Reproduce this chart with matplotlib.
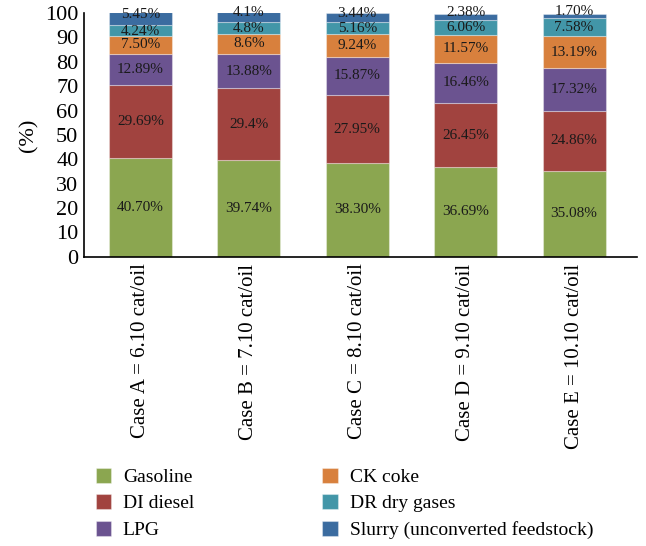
import matplotlib
matplotlib.use("Agg")
import matplotlib.pyplot as plt
import numpy as np

plt.rcParams['font.family'] = ['Liberation Serif', 'DejaVu Serif']

cases = ["Case A = 6.10 cat/oil", "Case B = 7.10 cat/oil", "Case C = 8.10 cat/oil",
         "Case D = 9.10 cat/oil", "Case E = 10.10 cat/oil"]

series_names = ["Gasoline", "DI diesel", "LPG", "CK coke", "DR dry gases",
                "Slurry (unconverted feedstock)"]

gasoline = [40.70, 39.74, 38.30, 36.69, 35.08]
diesel = [29.69, 29.4, 27.95, 26.45, 24.86]
lpg = [12.89, 13.88, 15.87, 16.46, 17.32]
coke = [7.50, 8.6, 9.24, 11.57, 13.19]
dry_gases = [4.24, 4.8, 5.16, 6.06, 7.58]
slurry = [5.45, 4.1, 3.44, 2.38, 1.70]

labels = [
    ["40.70%", "39.74%", "38.30%", "36.69%", "35.08%"],
    ["29.69%", "29.4%", "27.95%", "26.45%", "24.86%"],
    ["12.89%", "13.88%", "15.87%", "16.46%", "17.32%"],
    ["7.50%", "8.6%", "9.24%", "11.57%", "13.19%"],
    ["4.24%", "4.8%", "5.16%", "6.06%", "7.58%"],
    ["5.45%", "4.1%", "3.44%", "2.38%", "1.70%"],
]

colors = ["#8BA650", "#A1433F", "#6B5390", "#D8803D", "#4296A8", "#3B6CA0"]

# vertical nudge (points) of each series' value labels; the thin top
# segments get their labels lifted so they read clearly
label_offsets = [0, 0, 0, 0, -0.5, 3.0]

series = [gasoline, diesel, lpg, coke, dry_gases, slurry]

fig = plt.figure(figsize=(6.46, 5.46), dpi=100)
ax = fig.add_axes([0.130, 0.530, 0.856, 0.446])

x = np.arange(len(cases))
bottom = np.zeros(len(cases))
handles = []
for vals, name, col, labs, dy in zip(series, series_names, colors, labels, label_offsets):
    vals = np.array(vals)
    bars = ax.bar(x, vals, width=0.58, bottom=bottom, color=col,
                  edgecolor=(1, 1, 1, 0.35), linewidth=0.8, label=name)
    handles.append(bars)
    for xi, b, v, lab in zip(x, bottom, vals, labs):
        ax.annotate(lab, (xi, b + v / 2), xytext=(0, dy), textcoords="offset points",
                    ha="center", va="center", fontsize=11, color="#1a1a1a")
    bottom = bottom + vals

ax.set_xlim(-0.52, 4.58)
ax.set_ylim(0, 100)
ax.set_yticks(np.arange(0, 101, 10))
ax.tick_params(axis="y", length=0, labelsize=16, pad=4)
ax.tick_params(axis="x", length=0, labelsize=15, pad=5)
ax.set_xticks(x)
ax.set_xticklabels(cases, rotation=90, va="top", ha="center")
ax.set_ylabel("(%)", fontsize=16, labelpad=5)

for side in ["top", "right"]:
    ax.spines[side].set_visible(False)
for side in ["left", "bottom"]:
    ax.spines[side].set_linewidth(1.2)
    ax.spines[side].set_color("black")

fig.legend(handles=handles, labels=series_names, loc="upper left",
           bbox_to_anchor=(0.148, 0.143), ncol=2, frameon=False,
           fontsize=14, handlelength=0.8, handleheight=0.8,
           handletextpad=0.6, labelspacing=0.42, columnspacing=6.6,
           borderaxespad=0, borderpad=0)

fig.savefig("out.png", dpi=100)
